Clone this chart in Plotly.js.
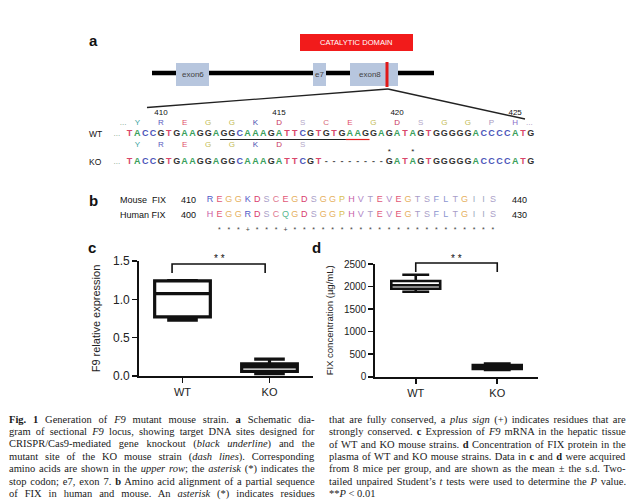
<!DOCTYPE html>
<html><head><meta charset="utf-8">
<script src="https://cdn.plot.ly/plotly-3.0.1.min.js"></script>
<style>html,body{margin:0;padding:0;background:#fff}</style>
</head><body><div id="chart" style="width:640px;height:504px"></div>
<script>
// ---------------- data ----------------
const groups = ['WT', 'KO'];
// panel c : F9 relative expression (box statistics)
const f9Lower  = [0.73, 0.03];
const f9Q1     = [0.77, 0.06];
const f9Median = [1.075, 0.12];
const f9Q3     = [1.24, 0.16];
const f9Upper  = [1.245, 0.22];
const f9Ticks  = [0, 0.5, 1.0, 1.5];
// panel d : FIX concentration (µg/mL)
const fixLower  = [1886, 150];
const fixQ1     = [1952, 170];
const fixMedian = [2030, 210];
const fixQ3     = [2123, 260];
const fixUpper  = [2263, 290];
const fixTicks  = [0, 500, 1000, 1500, 2000, 2500];
// panel a : sequences
const wtDNA = 'TACCGTGAAGGAGGCAAAGATTCGTGTGAAGGAGATAGTGGGGGACCCCATG';
const koDNA = 'TACCGTGAAGGAGGCAAAGATTCGT--------GATAGTGGGGGACCCCATG';
const wtAA = ['Y','R','E','G','G','K','D','S','C','E','G','D','S','G','G','P','H'];
const koAA = ['Y','R','E','G','G','K','D','S'];
const firstResidue = 409;
const residueLabels = [410, 415, 420, 425];
const sgRNA = [12, 27];   // nucleotide index range (black underline)
const pam = [28, 30];     // nucleotide index range (red underline)
const koStars = [33, 36]; // nucleotide index of asterisks
const exonNames = ['exon6', 'e7', 'exon8'];
// panel b : alignment
const mouseSeq = 'REGGKDSCEGDSGGPHVTEVEGTSFLTGIIS';
const humanSeq = 'HEGGRDSCQGDSGGPHVTEVEGTSFLTGIIS';
const consensus = ' ***+***+**********************';
const mouseRange = [410, 440];
const humanRange = [400, 430];

// ---------------- styles ----------------
const SANS = 'Liberation Sans, Arial, sans-serif';
const SERIF = 'Liberation Serif, Times New Roman, serif';
const ntColor = {T:'#d9476a', A:'#3a9f5c', C:'#4b55b8', G:'#333333', '-':'#555555'};
const aaColorA = {Y:'#3aa6a0', R:'#5a5ac0', E:'#e0506a', G:'#c4bb55', K:'#4a50b0', D:'#c8345e', S:'#b4a8c8', C:'#d86878', P:'#a898c0', H:'#8c70c8'};
const aaColorB = {R:'#4f5bc8', H:'#c860a8', E:'#e25878', G:'#e6b060', K:'#5560c8', D:'#d8406e', S:'#aaa0c8', C:'#e07890', Q:'#58b890', P:'#d8c050', V:'#b088c8', T:'#a89cc8', F:'#8c96d0', L:'#8c96d0', I:'#a0a8c0'};

const nt0 = 129.5, ntStep = 7.87;
const ntX = j => nt0 + ntStep * j;
const aaX = k => ntX(3 * k + 1);
const b0 = 210, bStep = 9.43;
const bX = i => b0 + bStep * i;

// row centres (pixels)
const yNum = 113, yWtAA = 123, yWtDNA = 133.5, yKoAA = 144.5, yKoStar = 151.5, yKoDNA = 162;

function textTrace(xs, ys, txt, colors, size, bold) {
  return {type:'scatter', mode:'text', xaxis:'x3', yaxis:'y3', x:xs, y:ys, text:txt,
    textposition:'middle center', cliponaxis:false, hoverinfo:'skip', showlegend:false,
    textfont:{family: SANS, size:size, color:colors, weight: bold ? 600 : 400}};
}
const traces = [];

// box plots
traces.push({type:'box', x:groups, q1:f9Q1, median:f9Median, q3:f9Q3, lowerfence:f9Lower, upperfence:f9Upper,
  xaxis:'x', yaxis:'y', line:{color:'#111', width:3.2}, fillcolor:'#ffffff', width:0.64, whiskerwidth:0.55,
  boxpoints:false, showlegend:false, hoverinfo:'skip'});
traces.push({type:'box', x:groups, q1:fixQ1, median:fixMedian, q3:fixQ3, lowerfence:fixLower, upperfence:fixUpper,
  xaxis:'x2', yaxis:'y2', line:{color:'#111', width:2.6}, fillcolor:'#ffffff', width:0.6, whiskerwidth:0.55,
  boxpoints:false, showlegend:false, hoverinfo:'skip'});

// panel a text rows
const wtChars = wtDNA.split(''), koChars = koDNA.split('');
traces.push(textTrace(wtChars.map((c,j)=>ntX(j)), wtChars.map(()=>yWtDNA), wtChars, wtChars.map(c=>ntColor[c]), 9, true));
traces.push(textTrace(koChars.map((c,j)=>ntX(j)), koChars.map(()=>yKoDNA), koChars, koChars.map(c=>ntColor[c]), 9, true));
traces.push(textTrace(wtAA.map((c,k)=>aaX(k)), wtAA.map(()=>yWtAA), wtAA, wtAA.map(c=>aaColorA[c]), 8, false));
traces.push(textTrace(koAA.map((c,k)=>aaX(k)), koAA.map(()=>yKoAA), koAA, koAA.map(c=>aaColorA[c]), 8, false));
traces.push(textTrace(residueLabels.map(n=>aaX(n-firstResidue)), residueLabels.map(()=>yNum), residueLabels.map(String), '#111', 8, false));
traces.push(textTrace(koStars.map(ntX), koStars.map(()=>yKoStar), koStars.map(()=>'*'), '#222', 8, false));
traces.push(textTrace([ntX(-1.6), ntX(-1.6), aaX(-0.6), aaX(wtAA.length-0.4)], [yWtDNA, yKoDNA, yWtAA, yWtAA],
  ['...','...','...','...'], ['#7aa08a','#7aa08a','#7aa08a','#a898c0'], 8, false));

// panel b rows
const mChars = mouseSeq.split(''), hChars = humanSeq.split(''), cChars = consensus.split('');
traces.push(textTrace(mChars.map((c,i)=>bX(i)), mChars.map(()=>200), mChars, mChars.map(c=>aaColorB[c]), 9, false));
traces.push(textTrace(hChars.map((c,i)=>bX(i)), hChars.map(()=>215), hChars, hChars.map(c=>aaColorB[c]), 9, false));
traces.push(textTrace(cChars.map((c,i)=>bX(i)), cChars.map(()=>230), cChars, '#444', 7, false));

// ---------------- shapes ----------------
const P = {xref:'x3', yref:'y3'};
const py = px => (504 - px) / 504; // pixel row -> paper fraction
const shapes = [
  // catalytic domain
  Object.assign({type:'rect', x0:300, x1:413, y0:34, y1:51, fillcolor:'#f21b1b', line:{width:0}}, P),
  // gene line
  Object.assign({type:'line', x0:152, x1:434, y0:73, y1:73, line:{color:'#000', width:4.5}}, P),
  // exons
  Object.assign({type:'rect', x0:176, x1:209, y0:63, y1:86, fillcolor:'#b7c6de', line:{width:0}}, P),
  Object.assign({type:'rect', x0:313, x1:326, y0:63, y1:86, fillcolor:'#b7c6de', line:{width:0}}, P),
  Object.assign({type:'rect', x0:350, x1:398, y0:63, y1:86, fillcolor:'#b7c6de', line:{width:0}}, P),
  Object.assign({type:'line', x0:387, x1:387, y0:62, y1:87, line:{color:'#e01818', width:3}}, P),
  // zoom lines
  Object.assign({type:'line', x0:388, x1:147, y0:89, y1:107.5, line:{color:'#222', width:1.3}}, P),
  Object.assign({type:'line', x0:388, x1:525, y0:89, y1:119, line:{color:'#222', width:1.3}}, P),
  // underlines
  Object.assign({type:'line', x0:ntX(sgRNA[0])-3.9, x1:ntX(sgRNA[1])+3.9, y0:139.5, y1:139.5, line:{color:'#222', width:1.2}}, P),
  Object.assign({type:'line', x0:ntX(pam[0])-3.9, x1:ntX(pam[1])+3.9, y0:139.5, y1:139.5, line:{color:'#e02020', width:1.2}}, P),
  // significance brackets
  {type:'path', xref:'x', yref:'paper', path:`M -0.12,${py(273)} L -0.12,${py(264)} L 0.95,${py(264)} L 0.95,${py(273)}`, line:{color:'#111', width:1.6}},
  {type:'path', xref:'x2', yref:'paper', path:`M 0,${py(272)} L 0,${py(263)} L 1,${py(263)} L 1,${py(272)}`, line:{color:'#111', width:1.6}}
];

// ---------------- annotations ----------------
function A(x, y, text, o) {
  return Object.assign({xref:'x3', yref:'y3', x:x, y:y, text:text, showarrow:false,
    xanchor:'center', yanchor:'middle', font:{family:SANS, size:9, color:'#111'}}, o || {});
}
const annotations = [
  A(93, 40, '<b>a</b>', {font:{family:SANS, size:15, color:'#111'}}),
  A(93, 200, '<b>b</b>', {font:{family:SANS, size:15, color:'#111'}}),
  A(92, 247, '<b>c</b>', {font:{family:SANS, size:15, color:'#111'}}),
  A(316, 247, '<b>d</b>', {font:{family:SANS, size:15, color:'#111'}}),
  A(356.5, 42.5, 'CATALYTIC DOMAIN', {font:{family:SANS, size:7.6, color:'#ffffff'}}),
  A(192.5, 74.5, exonNames[0], {font:{family:SANS, size:8, color:'#444'}}),
  A(319.5, 74.5, exonNames[1], {font:{family:SANS, size:8, color:'#444'}}),
  A(370, 74.5, exonNames[2], {font:{family:SANS, size:8, color:'#444'}}),
  A(95, yWtDNA, 'WT', {font:{family:SANS, size:8.5, color:'#111'}}),
  A(95, yKoDNA, 'KO', {font:{family:SANS, size:8.5, color:'#111'}}),
  A(118, 200, 'Mouse  FIX', {xanchor:'left'}),
  A(118, 215, 'Human FIX', {xanchor:'left'}),
  A(188, 200, String(mouseRange[0])), A(188, 215, String(humanRange[0])),
  A(519, 200, String(mouseRange[1])), A(519, 215, String(humanRange[1])),
  {xref:'x', yref:'paper', x:0.42, y:py(258), text:'* *', showarrow:false, yanchor:'middle', font:{family:SANS, size:10, color:'#111'}},
  {xref:'x2', yref:'paper', x:0.5, y:py(258), text:'* *', showarrow:false, yanchor:'middle', font:{family:SANS, size:10, color:'#111'}}
];

const captionLeft = [
  '<b>Fig. 1</b> Generation of <i>F9</i> mutant mouse strain. <b>a</b> Schematic dia-',
  'gram of sectional <i>F9</i> locus, showing target DNA sites designed for',
  'CRISPR/Cas9-mediated gene knockout (<i>black underline</i>) and the',
  'mutant site of the KO mouse strain (<i>dash lines</i>). Corresponding',
  'amino acids are shown in the <i>upper row</i>; the <i>asterisk</i> (*) indicates the',
  'stop codon; e7, exon 7. <b>b</b> Amino acid alignment of a partial sequence',
  'of FIX in human and mouse. An <i>asterisk</i> (*) indicates residues'
];
const captionRight = [
  'that are fully conserved, a <i>plus sign</i> (+) indicates residues that are',
  'strongly conserved. <b>c</b> Expression of <i>F9</i> mRNA in the hepatic tissue',
  'of WT and KO mouse strains. <b>d</b> Concentration of FIX protein in the',
  'plasma of WT and KO mouse strains. Data in <b>c</b> and <b>d</b> were acquired',
  'from 8 mice per group, and are shown as the mean ± the s.d. Two-',
  'tailed unpaired Student\u2019s <i>t</i> tests were used to determine the <i>P</i> value.',
  '**<i>P</i> &lt; 0.01'
];
const justifyWidth = {};
function addCaption(lines, x0, width) {
  lines.forEach((t, i) => {
    const idx = annotations.length;
    annotations.push(A(x0, 419.5 + 12.35 * i, t, {xanchor:'left', align:'left',
      font:{family:SERIF, size:10.5, color:'#1a1a1a'}}));
    if (!t.startsWith('**')) justifyWidth[idx] = width;
  });
}
addCaption(captionLeft, 7, 306);
addCaption(captionRight, 327, 297);

const axLine = {showline:true, linecolor:'#111', linewidth:1.8, ticks:'outside', ticklen:5, tickwidth:1.6,
  tickcolor:'#111', showgrid:false, zeroline:false, fixedrange:true};
const layout = {
  width:640, height:504, margin:{l:0, r:0, t:0, b:0}, paper_bgcolor:'#ffffff', plot_bgcolor:'rgba(0,0,0,0)',
  showlegend:false, font:{family:SANS, color:'#222'},
  xaxis: Object.assign({domain:[139/640, 313/640], anchor:'y', type:'category', range:[-0.5, 1.5],
    tickfont:{size:11, color:'#222'}}, axLine),
  yaxis: Object.assign({domain:[128/504, 243/504], anchor:'x', range:[0, 1.5], tickvals:f9Ticks, tickformat:'.1f',
    tickfont:{size:12, color:'#222'}, title:{text:'F9 relative expression', font:{size:11, color:'#222'}, standoff:10}}, axLine),
  xaxis2: Object.assign({domain:[375/640, 538/640], anchor:'y2', type:'category', range:[-0.5, 1.5],
    tickfont:{size:11, color:'#222'}}, axLine),
  yaxis2: Object.assign({domain:[127.3/504, 240/504], anchor:'x2', range:[0, 2500], tickvals:fixTicks,
    tickfont:{size:10, color:'#222'}, title:{text:'FIX concentration (µg/mL)', font:{size:9.5, color:'#222'}, standoff:9}}, axLine),
  xaxis3: {domain:[0, 1], anchor:'y3', range:[0, 640], visible:false, fixedrange:true},
  yaxis3: {domain:[0, 1], anchor:'x3', range:[504, 0], visible:false, fixedrange:true},
  shapes: shapes, annotations: annotations
};

Plotly.newPlot('chart', traces, layout, {staticPlot:true, displayModeBar:false}).then(() => {
  document.querySelectorAll('#chart g.annotation').forEach(g => {
    const idx = +g.getAttribute('data-index');
    const w = justifyWidth[idx];
    if (!w) return;
    const t = g.querySelector('text.annotation-text');
    if (!t) return;
    const cur = t.getBBox().width;
    const n = (t.textContent.match(/[ \u00a0]/g) || []).length;
    if (n > 0) t.style.wordSpacing = ((w - cur) / n).toFixed(2) + 'px';
  });
});
</script></body></html>
